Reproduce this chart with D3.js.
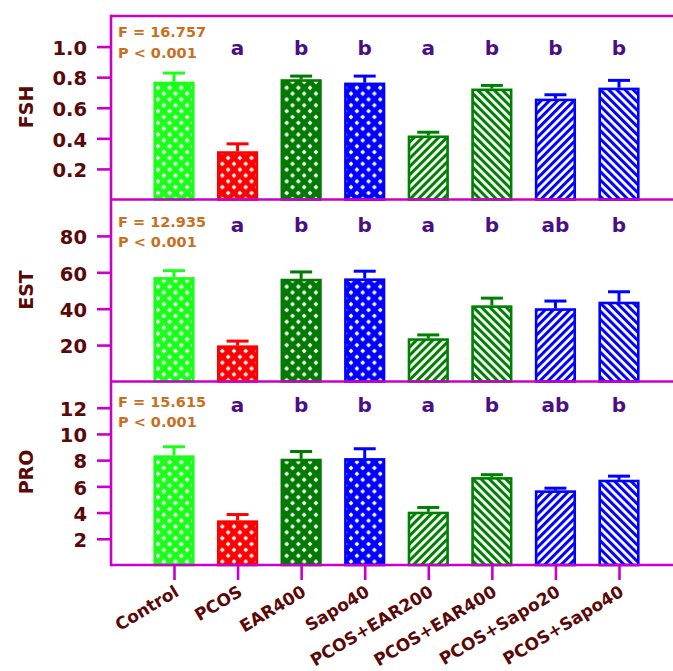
<!DOCTYPE html>
<html><head><meta charset="utf-8">
<script src="https://cdn.jsdelivr.net/npm/d3@7"></script>
<style>html,body{margin:0;padding:0;background:#fff;}svg{display:block;}</style>
</head><body>
<script>
// ---- data ----
const categories = ["Control","PCOS","EAR400","Sapo40","PCOS+EAR200","PCOS+EAR400","PCOS+Sapo20","PCOS+Sapo40"];
const fshMean = [0.77,0.315,0.786,0.764,0.418,0.725,0.659,0.731];
const fshErr  = [0.057,0.049,0.021,0.043,0.022,0.021,0.026,0.048];
const estMean = [57.3,19.8,56.4,56.6,23.7,41.8,40.2,43.8];
const estErr  = [3.6,2.4,3.8,4.0,1.9,4.0,4.0,5.5];
const proMean = [8.36,3.40,8.10,8.15,4.06,6.70,5.69,6.50];
const proErr  = [0.66,0.45,0.56,0.72,0.33,0.19,0.17,0.28];
const fshLetters = ["","a","b","b","a","b","b","b"];
const estLetters = ["","a","b","b","a","b","ab","b"];
const proLetters = ["","a","b","b","a","b","ab","b"];
const fshTicks = [0.2,0.4,0.6,0.8,1.0];
const estTicks = [20,40,60,80];
const proTicks = [2,4,6,8,10,12];
const fStats = ["F = 16.757","F = 12.935","F = 15.615"];
const pStats = ["P < 0.001","P < 0.001","P < 0.001"];
const barColors = ["#1aff1a","#ff0000","#007a00","#0000ff","#008000","#008000","#0000ff","#0000ff"];
const barPatterns = ["cross","cross","cross","cross","fwd","back","fwd","back"];

// ---- layout ----
const W = 673, H = 671;
const axisX = 111, rightX = 673;
const bounds = [16, 199.5, 381.5, 565];
const MAG = "#c800c8", MAROON = "#5a0808", ORANGE = "#c8701e", PURPLE = "#4b0f85";
const FONT = "'DejaVu Sans', sans-serif";

const svg = d3.select("body").append("svg").attr("width", W).attr("height", H);
const defs = svg.append("defs");

// patterns
barColors.forEach((c, i) => {
  const kind = barPatterns[i];
  const p = defs.append("pattern").attr("id", "pat" + i).attr("patternUnits", "userSpaceOnUse");
  if (kind === "cross") {
    const s = 11.7, r = 2.4;
    p.attr("width", s).attr("height", s).attr("x", 0).attr("y", 0);
    p.append("rect").attr("width", s).attr("height", s).attr("fill", c);
    const pts = [[0,0],[s,0],[0,s],[s,s],[s/2,s/2]];
    pts.forEach(([cx, cy]) => {
      p.append("path").attr("d", `M${cx-r},${cy}L${cx},${cy-r}L${cx+r},${cy}L${cx},${cy+r}Z`).attr("fill", "#fff");
    });
  } else {
    const s = 5.8;
    p.attr("width", s).attr("height", s)
     .attr("patternTransform", kind === "fwd" ? "rotate(45)" : "rotate(-45)");
    p.append("rect").attr("width", s).attr("height", s).attr("fill", "#fff");
    p.append("rect").attr("width", 3).attr("height", s).attr("fill", c);
  }
});

const x = d3.scalePoint().domain(categories).range([174, 619]);
const barW = 41, capW = 22;

const panels = [
  {name: "FSH", mean: fshMean, err: fshErr, letters: fshLetters, ticks: fshTicks, domain: [0, 1.2], fmt: d3.format(".1f"),
   statY: [37, 58], letterY: 55, labelY: 107},
  {name: "EST", mean: estMean, err: estErr, letters: estLetters, ticks: estTicks, domain: [0, 100], fmt: d3.format("d"),
   statY: [226.5, 246.5], letterY: 232, labelY: 290},
  {name: "PRO", mean: proMean, err: proErr, letters: proLetters, ticks: proTicks, domain: [0, 14], fmt: d3.format("d"),
   statY: [406.5, 426.5], letterY: 412, labelY: 472}
];

panels.forEach((pn, k) => {
  const top = bounds[k], bot = bounds[k + 1];
  const y = d3.scaleLinear().domain(pn.domain).range([bot, top]);
  const g = svg.append("g");

  // bars
  pn.mean.forEach((v, i) => {
    const cx = x(categories[i]);
    const c = barColors[i];
    const e = pn.err[i];
    g.append("line").attr("x1", cx).attr("x2", cx).attr("y1", y(v)).attr("y2", y(v + e))
      .attr("stroke", c).attr("stroke-width", 3);
    g.append("line").attr("x1", cx - capW / 2).attr("x2", cx + capW / 2).attr("y1", y(v + e)).attr("y2", y(v + e))
      .attr("stroke", c).attr("stroke-width", 3);
    g.append("rect").attr("x", cx - barW / 2 + 1.2).attr("y", y(v) + 1.2)
      .attr("width", barW - 2.4).attr("height", Math.max(0, y(0) - y(v) - 1.2))
      .attr("fill", `url(#pat${i})`).attr("stroke", c).attr("stroke-width", 2.6);
    if (pn.letters[i]) {
      g.append("text").attr("x", cx).attr("y", pn.letterY).attr("text-anchor", "middle")
        .attr("font-family", FONT).attr("font-weight", "bold").attr("font-size", 20)
        .attr("fill", PURPLE).text(pn.letters[i]);
    }
  });

  // y axis ticks
  const ax = d3.axisLeft(y).tickValues(pn.ticks).tickFormat(pn.fmt).tickSize(14).tickPadding(10);
  const ag = svg.append("g").attr("transform", `translate(${axisX},0)`).call(ax);
  ag.select(".domain").remove();
  ag.selectAll(".tick line").attr("stroke", MAG).attr("stroke-width", 2.6);
  ag.selectAll(".tick text").attr("font-family", FONT).attr("font-weight", "bold")
    .attr("font-size", 19.5).attr("fill", MAROON).attr("dy", "0.4em");

  // axis label
  svg.append("text").attr("transform", `translate(33,${pn.labelY}) rotate(-90)`)
    .attr("text-anchor", "middle").attr("font-family", FONT).attr("font-weight", "bold")
    .attr("font-size", 19).attr("fill", MAROON).text(pn.name);

  // stats
  svg.append("text").attr("x", 118).attr("y", pn.statY[0]).attr("font-family", FONT).attr("font-weight", "bold")
    .attr("font-size", 14.5).attr("fill", ORANGE).text(fStats[k]);
  svg.append("text").attr("x", 118).attr("y", pn.statY[1]).attr("font-family", FONT).attr("font-weight", "bold")
    .attr("font-size", 14.5).attr("fill", ORANGE).text(pStats[k]);
});

// frame lines
bounds.forEach(b => {
  svg.append("line").attr("x1", axisX).attr("x2", rightX).attr("y1", b).attr("y2", b)
    .attr("stroke", MAG).attr("stroke-width", 2.6);
});
svg.append("line").attr("x1", axisX).attr("x2", axisX).attr("y1", bounds[0] - 1.3).attr("y2", bounds[3] + 1.3)
  .attr("stroke", MAG).attr("stroke-width", 2.6);

// x axis
const xa = d3.axisBottom(x).tickSize(15).tickFormat("");
const xg = svg.append("g").attr("transform", `translate(0,${bounds[3]})`).call(xa);
xg.select(".domain").remove();
xg.selectAll(".tick line").attr("stroke", MAG).attr("stroke-width", 2.6);
svg.append("g").selectAll("text").data(categories).join("text")
  .attr("transform", d => `translate(${x(d) + 6},${595}) rotate(-31)`)
  .attr("text-anchor", "end").attr("font-family", FONT).attr("font-weight", "bold")
  .attr("font-size", 17).attr("fill", MAROON).text(d => d);
</script>
</body></html>
